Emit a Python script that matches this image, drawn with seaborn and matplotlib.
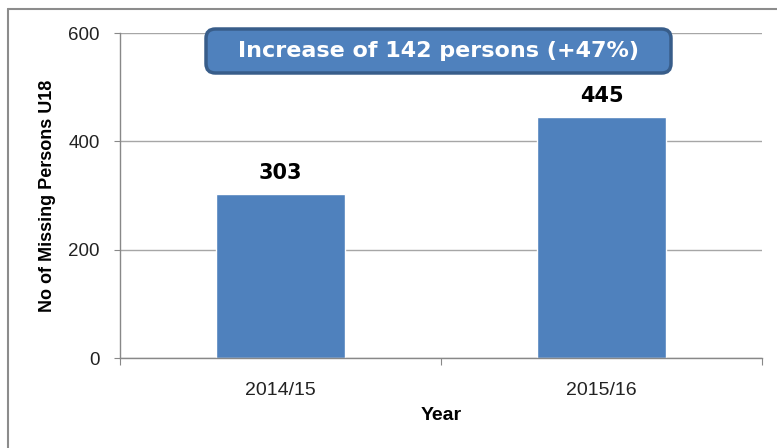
import matplotlib
matplotlib.use("Agg")
import matplotlib.pyplot as plt
import seaborn as sns
from matplotlib.patches import FancyBboxPatch
from matplotlib.lines import Line2D

years = ["2014/15", "2015/16"]
persons = [303, 445]
yticks = [0, 200, 400, 600]
box_text = "Increase of 142 persons (+47%)"
ylabel = "No of Missing Persons U18"
xlabel = "Year"

sns.set_theme(style="white")
plt.rcParams["font.family"] = ["Liberation Sans", "DejaVu Sans"]

BAR = "#4F81BD"
GRID = "#A6A6A6"
AXC = "#888888"

fig = plt.figure(figsize=(7.77, 4.48), dpi=100)
ax = fig.add_axes([120/777, 1 - 358/448, (762-120)/777, (358-33)/448])

sns.barplot(x=years, y=persons, color=BAR, width=0.4, saturation=1, ax=ax)
ax.set_xlim(-0.5, 1.5)
ax.set_ylim(0, 600)
ax.set_yticks(yticks)
ax.set_yticklabels([str(t) for t in yticks])

ax.yaxis.grid(True, color=GRID, linewidth=1.0)
ax.xaxis.grid(False)
ax.set_axisbelow(True)

for s in ["top", "right"]:
    ax.spines[s].set_visible(False)
for s in ["left", "bottom"]:
    ax.spines[s].set_color(AXC)
    ax.spines[s].set_linewidth(1.0)

ax.tick_params(axis="y", which="major", direction="out", length=4.5, width=0.8,
               color=AXC, left=True, pad=10, labelsize=13.5, labelcolor="#222222")
ax.tick_params(axis="x", which="major", length=0, pad=17, labelsize=14, labelcolor="#222222")
ax.set_xticks([-0.5, 0.5, 1.5], minor=True)
ax.tick_params(axis="x", which="minor", direction="out", length=5, width=0.8,
               color=AXC, bottom=True)

ax.set_ylabel(ylabel, fontsize=13, fontweight="bold", color="black", labelpad=9)
ax.set_xlabel(xlabel, fontsize=14, fontweight="bold", color="black", labelpad=6)

for c in ax.containers:
    ax.bar_label(c, labels=[str(v) for v in persons], padding=8,
                 fontsize=15, fontweight="bold", family="DejaVu Sans", color="black")

# annotation box
x0, y0, x1, y1 = 206/777, 1 - 73/448, 671/777, 1 - 29/448
box = FancyBboxPatch((x0, y0), x1 - x0, y1 - y0,
                     boxstyle="round,pad=0,rounding_size=0.012",
                     transform=fig.transFigure, facecolor=BAR, edgecolor="#385D8A",
                     linewidth=2.5, zorder=5, mutation_aspect=777/448)
fig.patches.append(box)
fig.text((x0 + x1) / 2, (y0 + y1) / 2, box_text, ha="center", va="center",
         fontsize=16, fontweight="bold", family="DejaVu Sans", color="white", zorder=6)

# outer frame
fig.add_artist(Line2D([8/777, 8/777], [0, 1 - 9/448], transform=fig.transFigure,
                      color="#8C8C8C", linewidth=1.5))
fig.add_artist(Line2D([8/777, 1], [1 - 9/448, 1 - 9/448], transform=fig.transFigure,
                      color="#8C8C8C", linewidth=1.5))

fig.savefig("out.png", dpi=100)
